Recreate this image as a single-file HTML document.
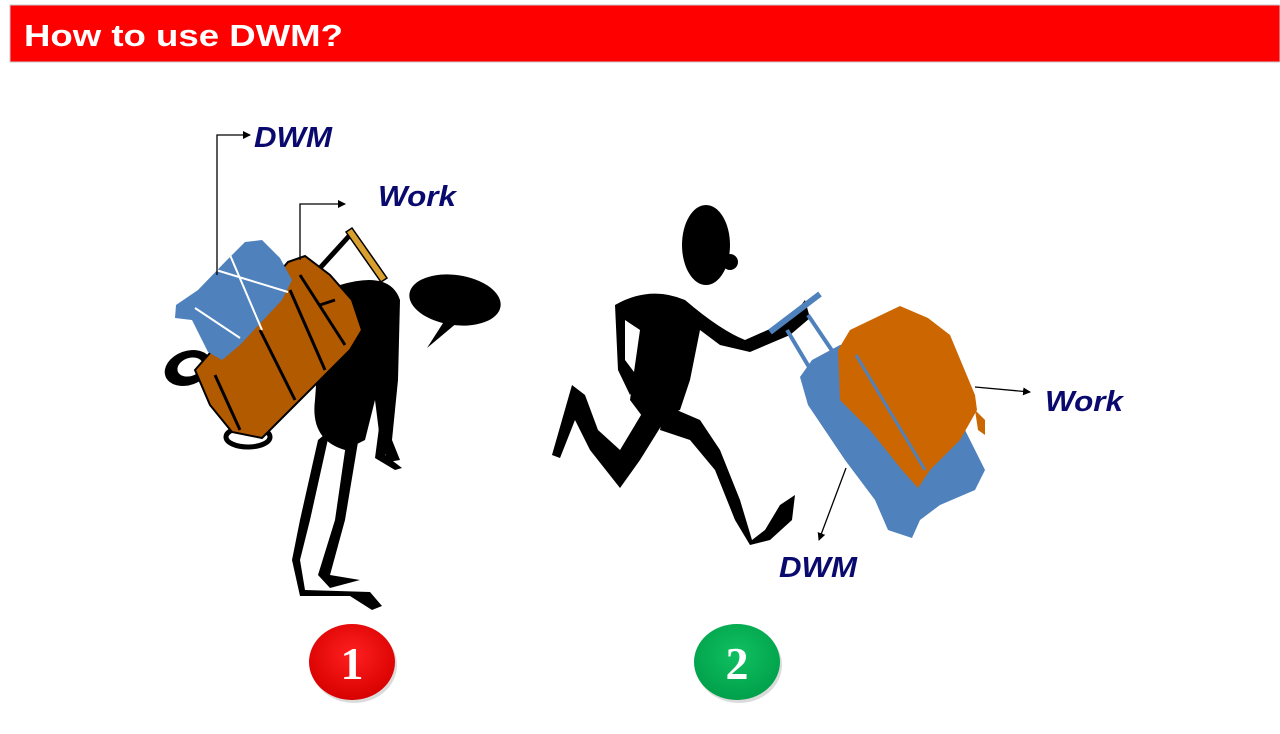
<!DOCTYPE html>
<html><head><meta charset="utf-8"><style>
html,body{margin:0;padding:0;background:#fff;width:1280px;height:734px;overflow:hidden}
</style></head><body>
<svg width="1280" height="734" viewBox="0 0 1280 734" xmlns="http://www.w3.org/2000/svg">
<defs>
<marker id="ah" markerWidth="8" markerHeight="8" refX="7" refY="4" orient="auto" markerUnits="userSpaceOnUse"><path d="M0,0 L8,4 L0,8 z" fill="#000"/></marker>
<radialGradient id="gr" cx="50%" cy="40%" r="60%"><stop offset="0" stop-color="#ff2020"/><stop offset="1" stop-color="#d80000"/></radialGradient>
<radialGradient id="gg" cx="50%" cy="40%" r="60%"><stop offset="0" stop-color="#10c060"/><stop offset="1" stop-color="#00a04a"/></radialGradient>
</defs>
<rect x="10" y="5" width="1270" height="57" fill="#ff0000" stroke="#c8c8c8" stroke-width="1"/>
<text x="24" y="46" font-family="Liberation Sans, sans-serif" font-weight="bold" font-size="31" fill="#fff" textLength="319" lengthAdjust="spacingAndGlyphs">How to use DWM?</text>

<!-- Figure 1 -->
<g>
<path d="M330,430 L310,520 L300,560 L305,590 L370,592 L382,606 L372,610 L350,596 L300,596 L292,560 L300,520 L318,440 Z" fill="#000"/>
<path d="M360,430 L345,520 L330,575 L360,580 L330,588 L318,575 L335,520 L348,430 Z" fill="#000"/>
<path d="M340,285 Q390,270 400,300 L398,380 L392,440 L400,460 L388,462 L380,440 L375,400 L365,440 L345,450 Q310,440 315,400 L320,330 Z" fill="#000"/>
<path d="M388,420 L385,455 L402,468 L395,470 L375,458 L380,420 Z" fill="#000"/>
<ellipse cx="455" cy="300" rx="46" ry="25" transform="rotate(8 455 300)" fill="#000"/>
<path d="M445,320 L427,348 L458,322 Z" fill="#000"/>
<line x1="320" y1="268" x2="350" y2="235" stroke="#000" stroke-width="5"/>
<path d="M346,232 L352,228 L387,278 L381,282 Z" fill="#d9a030" stroke="#000" stroke-width="1.5"/>
<ellipse cx="188" cy="368" rx="24" ry="17" transform="rotate(-20 188 368)" fill="#000"/>
<ellipse cx="190" cy="367" rx="13" ry="9" transform="rotate(-20 190 367)" fill="#fff"/>
<ellipse cx="248" cy="437" rx="22" ry="10" fill="none" stroke="#000" stroke-width="5"/>
<path d="M288,262 L305,256 L330,275 L352,300 L362,330 L350,350 L300,400 L262,438 L232,432 L210,405 L195,370 L230,330 Z" fill="#b25a00" stroke="#000" stroke-width="2"/>
<path d="M300,275 L345,345 M290,290 L325,370 M260,330 L295,400 M215,375 L240,430 M320,305 L335,300" stroke="#000" stroke-width="3" fill="none"/>
<path d="M245,242 L262,240 L280,258 L292,280 L282,300 L240,345 L222,360 L208,352 L192,320 L175,318 L176,305 L198,290 L225,262 Z" fill="#4f81bd"/>
<path d="M216,270 L288,292 M230,255 L262,330 M195,308 L240,338" stroke="#fff" stroke-width="2" fill="none"/>
<polyline points="217,275 217,135 250,135" fill="none" stroke="#000" stroke-width="1.3" marker-end="url(#ah)"/>
<polyline points="300,260 300,204 345,204" fill="none" stroke="#000" stroke-width="1.3" marker-end="url(#ah)"/>
</g>
<text x="254" y="147" font-family="Liberation Sans, sans-serif" font-weight="bold" font-style="italic" font-size="29" fill="#0a0a6e" textLength="78" lengthAdjust="spacingAndGlyphs">DWM</text>
<text x="378" y="206" font-family="Liberation Sans, sans-serif" font-weight="bold" font-style="italic" font-size="29" fill="#0a0a6e" textLength="78" lengthAdjust="spacingAndGlyphs">Work</text>

<!-- Figure 2 -->
<g>
<ellipse cx="706" cy="245" rx="24" ry="40" fill="#000"/>
<ellipse cx="730" cy="262" rx="8" ry="8" fill="#000"/>
<path d="M615,305 Q650,285 685,300 Q720,330 745,340 L790,320 L805,300 L810,318 L790,335 L750,352 L720,345 L700,330 L690,380 L680,410 L645,420 L630,400 L640,330 L625,320 L625,360 L640,380 L630,395 L618,370 Z" fill="#000"/>
<path d="M650,400 L620,450 L598,430 L585,395 L572,385 L562,420 L552,455 L560,458 L575,420 L590,450 L620,488 L640,460 L668,415 Z" fill="#000"/>
<path d="M665,405 L700,420 L720,450 L740,500 L752,540 L765,530 L780,505 L795,495 L792,520 L770,540 L750,545 L735,520 L715,470 L690,440 L660,430 Z" fill="#000"/>
<line x1="787" y1="330" x2="812" y2="372" stroke="#4f81bd" stroke-width="4"/>
<line x1="808" y1="315" x2="835" y2="355" stroke="#4f81bd" stroke-width="4"/>
<line x1="770" y1="332" x2="820" y2="294" stroke="#4f81bd" stroke-width="6"/>
<path d="M800,377 L812,360 L840,345 L870,340 L935,410 L965,430 L985,470 L975,490 L940,505 L920,520 L912,538 L888,530 L875,500 L845,460 L808,405 Z" fill="#4f81bd"/>
<path d="M850,330 L900,306 L928,318 L950,335 L975,395 L977,410 L960,440 L930,470 L918,488 L902,470 L870,430 L840,400 L838,350 Z" fill="#cc6600"/>
<path d="M975,410 L985,420 L985,435 L978,430 Z" fill="#cc6600"/>
<path d="M856,355 L925,470" stroke="#4f81bd" stroke-width="3"/>
<line x1="975" y1="387" x2="1030" y2="392" stroke="#000" stroke-width="1.3" marker-end="url(#ah)"/>
<line x1="846" y1="468" x2="819" y2="540" stroke="#000" stroke-width="1.3" marker-end="url(#ah)"/>
</g>
<text x="1045" y="411" font-family="Liberation Sans, sans-serif" font-weight="bold" font-style="italic" font-size="29" fill="#0a0a6e" textLength="78" lengthAdjust="spacingAndGlyphs">Work</text>
<text x="779" y="577" font-family="Liberation Sans, sans-serif" font-weight="bold" font-style="italic" font-size="29" fill="#0a0a6e" textLength="78" lengthAdjust="spacingAndGlyphs">DWM</text>

<ellipse cx="354" cy="665" rx="43" ry="38" fill="#999" opacity="0.35"/>
<ellipse cx="352" cy="662" rx="43" ry="38" fill="url(#gr)"/>
<text x="352" y="679" text-anchor="middle" font-family="Liberation Serif, serif" font-weight="bold" font-size="46" fill="#fff">1</text>
<ellipse cx="739" cy="665" rx="43" ry="38" fill="#999" opacity="0.35"/>
<ellipse cx="737" cy="662" rx="43" ry="38" fill="url(#gg)"/>
<text x="737" y="679" text-anchor="middle" font-family="Liberation Serif, serif" font-weight="bold" font-size="46" fill="#fff">2</text>
</svg>
</body></html>
